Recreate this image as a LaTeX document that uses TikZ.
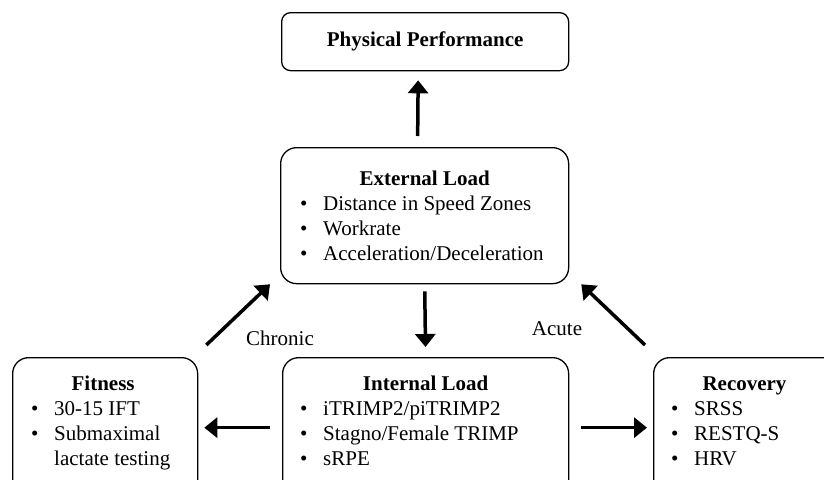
\documentclass[tikz,border=0pt]{standalone}
\usepackage{fontspec}
\setmainfont{Liberation Serif}
\usepackage{tikz}
\usetikzlibrary{positioning,arrows.meta}
\newcommand{\bul}[1]{\makebox[23pt][l]{\textbullet}#1}

\begin{document}
\begin{tikzpicture}[x=1pt,y=-1pt,
    box/.style={draw, line width=1.3pt, rounded corners=16pt, anchor=north west, inner sep=0pt},
    head/.style={font=\fontsize{21}{25}\selectfont\bfseries, inner sep=0pt, anchor=base},
    items/.style={font=\fontsize{21}{25}\selectfont, align=left, inner sep=0pt, anchor=north west},
    lbl/.style={font=\fontsize{21}{25}\selectfont, inner sep=0pt},
    arr/.style={line width=3.5pt, -{Triangle[width=20pt,length=13pt]}}]
  \clip (0,0) rectangle (824,479);

  \node[box, rounded corners=9pt, minimum width=287pt, minimum height=58pt,
        font=\fontsize{21}{25}\selectfont\bfseries] (perf) at (281,12) {Physical Performance};

  \node[box, minimum width=288pt, minimum height=136pt] (ext) at (280,147) {};
  \node[head] (extT) at ([yshift=-38pt]ext.north) {External Load};
  \node[items] (extL) at ([xshift=20pt,yshift=-49pt]ext.north west)
    {\bul{Distance in Speed Zones}\\\bul{Workrate}\\\bul{Acceleration/Deceleration}};

  \node[box, minimum width=185pt, minimum height=140pt] (fit) at (12,357) {};
  \node[head] (fitT) at ([xshift=-2pt,yshift=-33pt]fit.north) {Fitness};
  \node[items] (fitL) at ([xshift=19pt,yshift=-44pt]fit.north west)
    {\bul{30-15 IFT}\\\bul{Submaximal}\\\hspace*{23pt}lactate testing};

  \node[box, minimum width=286pt, minimum height=140pt] (int) at (282,357) {};
  \node[head] (intT) at ([yshift=-33pt]int.north) {Internal Load};
  \node[items] (intL) at ([xshift=18pt,yshift=-44pt]int.north west)
    {\bul{iTRIMP2/piTRIMP2}\\\bul{Stagno/Female TRIMP}\\\bul{sRPE}};

  \node[box, minimum width=200pt, minimum height=140pt] (rec) at (653,357) {};
  \node[head] (recT) at ([xshift=91.5pt,yshift=-33pt]rec.north west) {Recovery};
  \node[items] (recL) at ([xshift=18pt,yshift=-44pt]rec.north west)
    {\bul{SRSS}\\\bul{RESTQ-S}\\\bul{HRV}};

  \node[lbl] (chronic) at (280,338) {Chronic};
  \node[lbl] (acute) at (557,329) {Acute};

  \draw[arr] ([xshift=-7pt,yshift=11pt]ext.north) -- ([xshift=-7pt,yshift=-9pt]perf.south);
  \draw[arr, shorten <=7pt, shorten >=10pt] (ext.south) -- (int.north);
  \draw[arr, shorten <=12pt, shorten >=6pt] (int.west) -- (fit.east);
  \draw[arr, shorten <=12pt, shorten >=6pt] (int.east) -- (rec.west);
  \draw[arr] ([xshift=8pt,yshift=12pt]fit.north east) -- ([xshift=-10pt]ext.south west);
  \draw[arr] ([xshift=-8pt,yshift=12pt]rec.north west) -- ([xshift=12pt]ext.south east);
\end{tikzpicture}
\end{document}
